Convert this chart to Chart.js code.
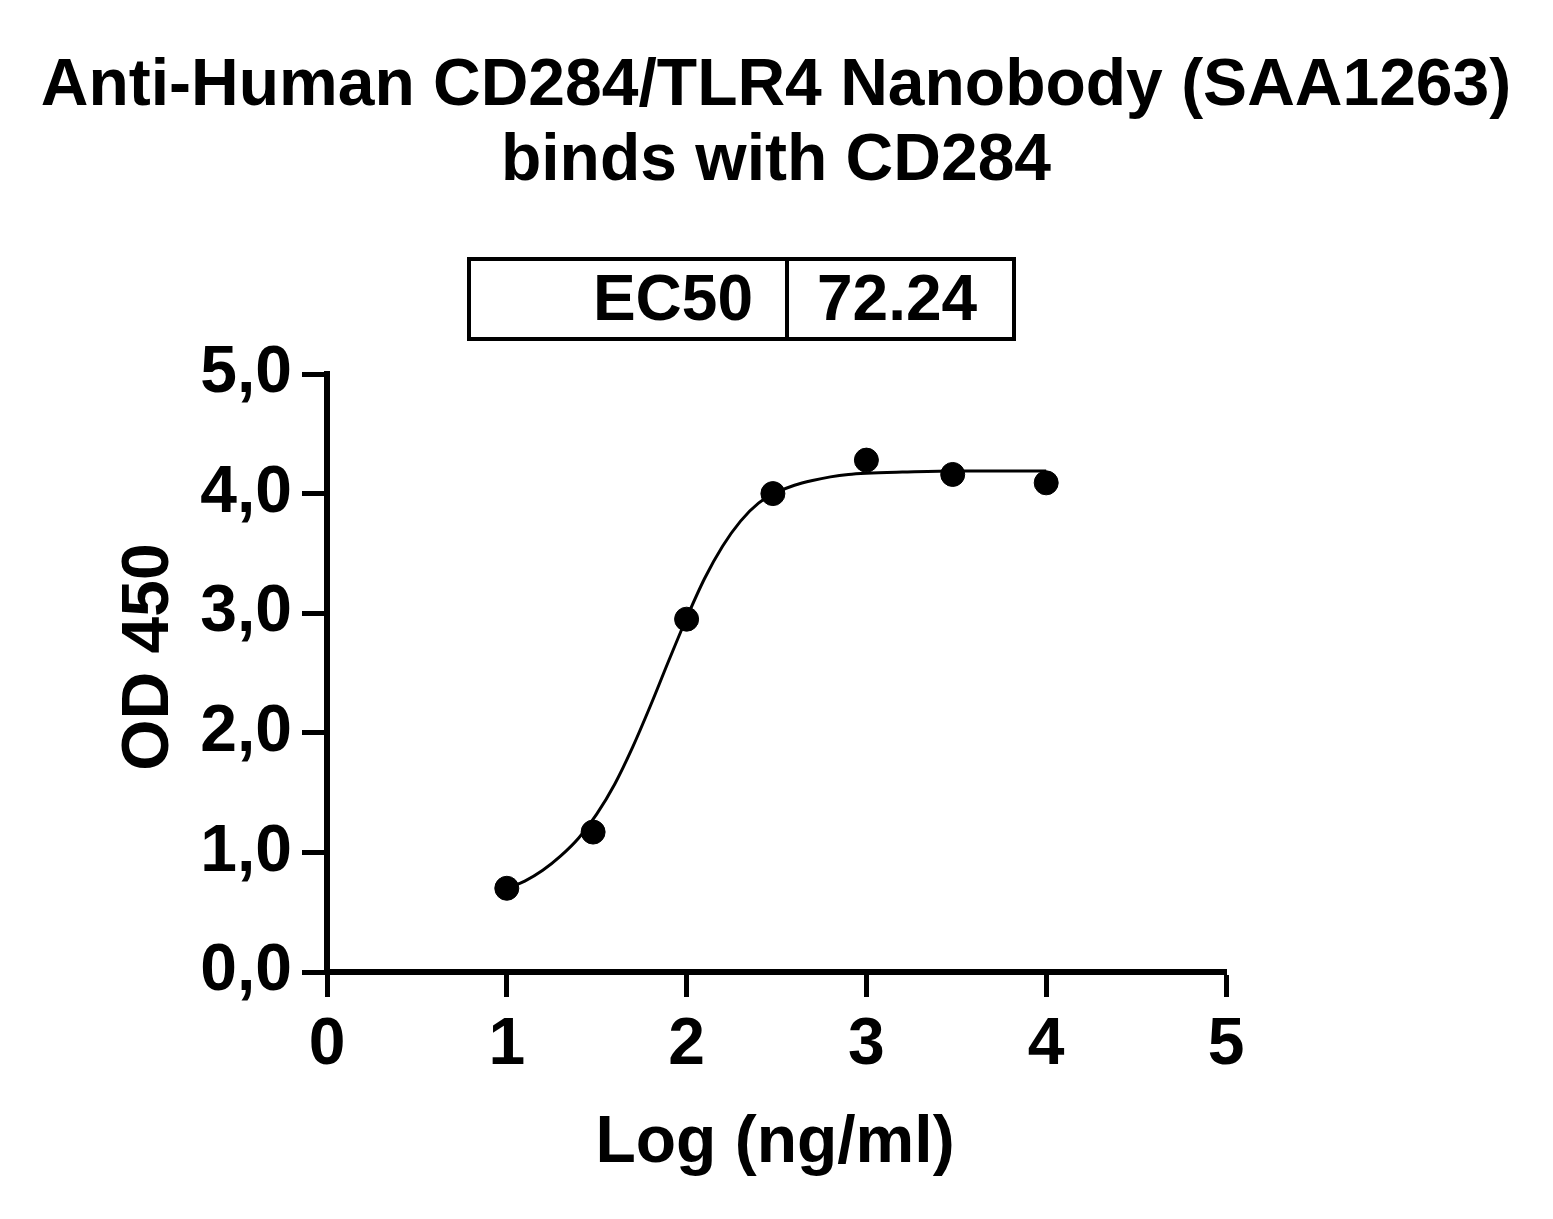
<!DOCTYPE html>
<html>
<head>
<meta charset="utf-8">
<script src="https://cdn.jsdelivr.net/npm/chart.js@4.4.1/dist/chart.umd.min.js"></script>
<style>
  html, body { margin: 0; padding: 0; background: #fff; }
  #chart { display: block; }
</style>
</head>
<body>
<canvas id="chart" width="1553" height="1219"></canvas>
<script>
// Data
const titleLines = ['Anti-Human CD284/TLR4 Nanobody (SAA1263)', 'binds with CD284'];
const xTitle = 'Log (ng/ml)';
const yTitle = 'OD 450';
const ec50Label = 'EC50';
const ec50Value = '72.24';

// measured points
const logConc = [1.0, 1.48, 2.0, 2.48, 3.0, 3.48, 4.0];
const od450 = [0.70, 1.17, 2.95, 4.00, 4.28, 4.16, 4.09];

// fitted curve
const curveX = [1.0, 1.1, 1.2, 1.3, 1.4, 1.5, 1.6, 1.7, 1.8, 1.9, 2.0, 2.1, 2.2, 2.3, 2.4, 2.5, 2.6, 2.7, 2.8, 2.9, 3.0, 3.2, 3.5, 4.0];
const curveY = [0.70, 0.76, 0.85, 0.97, 1.12, 1.32, 1.57, 1.88, 2.23, 2.60, 2.96, 3.29, 3.56, 3.77, 3.92, 4.01, 4.07, 4.11, 4.14, 4.16, 4.17, 4.18, 4.19, 4.19];

const FONT = '"Liberation Sans", Arial, Helvetica, sans-serif';

// Titles, EC50 box and axis titles
const textPlugin = {
    id: 'textPlugin',
    afterDraw(chart) {
        const ctx = chart.ctx;
        ctx.save();
        ctx.fillStyle = '#000';
        ctx.strokeStyle = '#000';

        ctx.font = 'bold 66px ' + FONT;
        ctx.textAlign = 'center';
        ctx.textBaseline = 'alphabetic';
        ctx.fillText(titleLines[0], 776, 105);
        ctx.fillText(titleLines[1], 776, 180);

        // EC50 table
        ctx.lineWidth = 4;
        ctx.strokeRect(469, 259, 545, 80);
        ctx.beginPath();
        ctx.moveTo(787, 259);
        ctx.lineTo(787, 339);
        ctx.stroke();
        ctx.font = 'bold 64px ' + FONT;
        ctx.textAlign = 'right';
        ctx.fillText(ec50Label, 753, 320);
        ctx.textAlign = 'left';
        ctx.fillText(ec50Value, 817, 320);

        // axis titles
        ctx.font = 'bold 66px ' + FONT;
        ctx.textAlign = 'center';
        ctx.fillText(xTitle, 775, 1162);
        ctx.translate(168, 657);
        ctx.rotate(-Math.PI / 2);
        ctx.fillText(yTitle, 0, 0);
        ctx.restore();
    }
};

const tickFont = { family: FONT, size: 66, weight: 'bold' };

const ctx = document.getElementById('chart').getContext('2d');
new Chart(ctx, {
    type: 'scatter',
    data: {
        datasets: [
            {
                label: 'fit',
                type: 'line',
                data: curveX.map((x, i) => ({ x: x, y: curveY[i] })),
                borderColor: '#000',
                borderWidth: 3,
                pointRadius: 0,
                fill: false,
                cubicInterpolationMode: 'monotone'
            },
            {
                label: 'OD 450',
                data: logConc.map((x, i) => ({ x: x, y: od450[i] })),
                backgroundColor: '#000',
                borderColor: '#000',
                pointRadius: 12,
                pointHoverRadius: 12
            }
        ]
    },
    options: {
        responsive: false,
        animation: false,
        devicePixelRatio: 1,
        layout: { padding: { top: 374, right: 327, left: 0, bottom: 0 } },
        plugins: {
            legend: { display: false },
            tooltip: { enabled: false }
        },
        scales: {
            x: {
                type: 'linear',
                min: 0,
                max: 5,
                afterFit: (s) => { s.height = 247; },
                grid: { drawOnChartArea: false, tickLength: 25, tickWidth: 5, tickColor: '#000' },
                border: { color: '#000', width: 6 },
                ticks: {
                    stepSize: 1,
                    padding: 9,
                    color: '#000',
                    font: tickFont
                }
            },
            y: {
                min: 0,
                max: 5,
                afterFit: (s) => { s.width = 327; },
                grid: { drawOnChartArea: false, tickLength: 25, tickWidth: 5, tickColor: '#000' },
                border: { color: '#000', width: 6 },
                ticks: {
                    stepSize: 1,
                    padding: 10,
                    color: '#000',
                    font: tickFont,
                    callback: (v) => v.toFixed(1).replace('.', ',')
                }
            }
        }
    },
    plugins: [textPlugin]
});
</script>
</body>
</html>
